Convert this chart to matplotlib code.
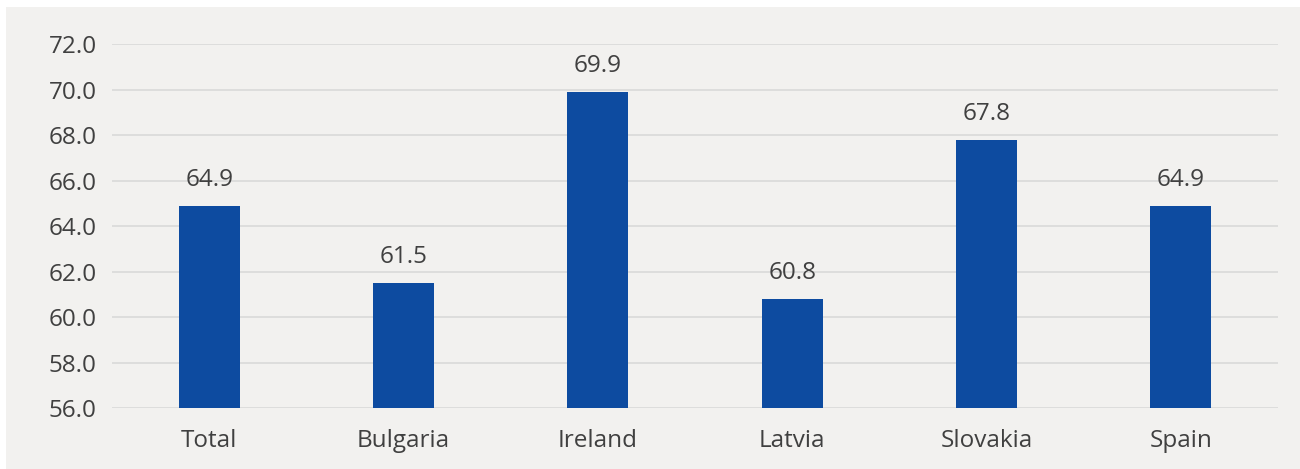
import matplotlib.pyplot as plt
import matplotlib.patches as patches

categories = ['Total', 'Bulgaria', 'Ireland', 'Latvia', 'Slovakia', 'Spain']
values = [64.9, 61.5, 69.9, 60.8, 67.8, 64.9]
yticks = [56.0, 58.0, 60.0, 62.0, 64.0, 66.0, 68.0, 70.0, 72.0]

bar_color = '#0d4ba0'
panel_color = '#f2f1ef'
grid_color = '#d9d9d9'
text_color = '#404040'

plt.rcParams['font.family'] = ['Open Sans', 'DejaVu Sans']

fig = plt.figure(figsize=(13, 4.69), dpi=100)
fig.patch.set_facecolor('white')
# light grey card behind the chart, leaving a thin white strip top and left
panel = patches.Rectangle((6 / 1300, 0), 1 - 6 / 1300, 1 - 7 / 469,
                          transform=fig.transFigure, facecolor=panel_color,
                          edgecolor='none', zorder=-10)
fig.add_artist(panel)

ax = fig.add_axes([112 / 1300, 1 - 408 / 469, 1166 / 1300, 364 / 469])
ax.set_facecolor('none')
ax.set_zorder(1)

x = range(len(categories))
ax.bar(x, [v - yticks[0] for v in values], bottom=yticks[0], width=0.315,
       color=bar_color, zorder=3)

for xi, v in zip(x, values):
    ax.text(xi, v + 0.6, f'{v:.1f}', ha='center', va='bottom',
            fontsize=17.5, color=text_color, zorder=4)

ax.set_xlim(-0.5, len(categories) - 0.5)
ax.set_ylim(yticks[0], yticks[-1])
ax.set_yticks(yticks)
ax.set_yticklabels([f'{t:.1f}' for t in yticks])
ax.set_xticks(list(x))
ax.set_xticklabels(categories)
ax.tick_params(axis='both', length=0, labelsize=17.5, labelcolor=text_color)
ax.tick_params(axis='y', pad=11)
ax.tick_params(axis='x', pad=15)

ax.yaxis.grid(True, color=grid_color, linewidth=1.2, zorder=1)
ax.set_axisbelow(True)
for s in ax.spines.values():
    s.set_visible(False)

fig.savefig('out.png', dpi=100, facecolor=fig.get_facecolor())
